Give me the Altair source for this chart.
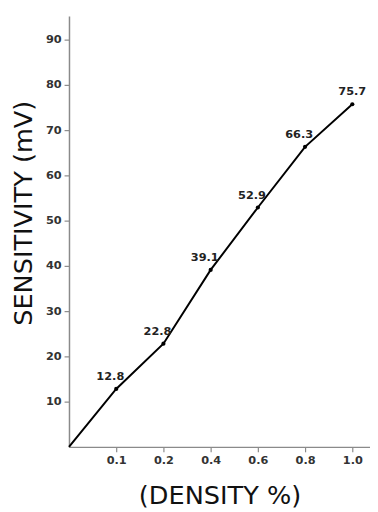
import json
import altair as alt
import pandas as pd

density = [0, 0.1, 0.2, 0.4, 0.6, 0.8, 1.0]
sensitivity = [0, 12.8, 22.8, 39.1, 52.9, 66.3, 75.7]
x_tick_labels = ["0.1", "0.2", "0.4", "0.6", "0.8", "1.0"]
y_ticks = [10, 20, 30, 40, 50, 60, 70, 80, 90]

df = pd.DataFrame({
    "idx": list(range(len(density))),
    "density": density,
    "sensitivity": sensitivity,
})
df["label"] = [f"{v:.1f}" for v in sensitivity]

label_expr = json.dumps([""] + x_tick_labels) + "[datum.value]"

FONT = "DejaVu Sans"

x_enc = alt.X(
    "idx:Q",
    scale=alt.Scale(domain=[0, 6.375], nice=False, zero=False),
    axis=alt.Axis(
        values=list(range(1, len(x_tick_labels) + 1)),
        labelExpr=label_expr,
        title="(DENSITY %)",
        grid=False,
        domainColor="#8a8a8a",
        domainWidth=1.5,
        tickColor="#8a8a8a",
        tickWidth=1.2,
        tickSize=5,
        labelFont=FONT,
        labelFontSize=11.5,
        labelFontWeight="bold",
        labelColor="#333333",
        labelPadding=3,
        titleFont=FONT,
        titleFontSize=26,
        titleFontWeight="normal",
        titleColor="#111111",
        titlePadding=17,
    ),
)
y_enc = alt.Y(
    "sensitivity:Q",
    scale=alt.Scale(domain=[0, 95.2], nice=False),
    axis=alt.Axis(
        values=y_ticks,
        title="SENSITIVITY (mV)",
        grid=False,
        domainColor="#8a8a8a",
        domainWidth=1.5,
        tickColor="#8a8a8a",
        tickWidth=1.2,
        tickSize=5,
        labelFont=FONT,
        labelFontSize=11.5,
        labelFontWeight="bold",
        labelColor="#333333",
        labelPadding=3,
        titleFont=FONT,
        titleFontSize=26,
        titleFontWeight="normal",
        titleColor="#111111",
        titleAngle=-90,
        titleAlign="center",
        titleBaseline="middle",
        titleX=-46,
        titleY=200,
    ),
)

base = alt.Chart(df)

line = base.mark_line(color="black", strokeWidth=2).encode(x=x_enc, y=y_enc)
points = base.transform_filter("datum.idx > 0").mark_point(
    filled=True, color="black", size=18, opacity=1
).encode(x="idx:Q", y="sensitivity:Q")
labels = base.transform_filter("datum.idx > 0 && datum.idx < 6").mark_text(
    font=FONT, fontSize=11.5, fontWeight="bold", color="#222222",
    dx=-6, dy=-12, baseline="middle", align="center"
).encode(x="idx:Q", y="sensitivity:Q", text="label:N")
last_label = base.transform_filter("datum.idx == 6").mark_text(
    font=FONT, fontSize=11.5, fontWeight="bold", color="#222222",
    dx=0, dy=-12, baseline="middle", align="center"
).encode(x="idx:Q", y="sensitivity:Q", text="label:N")

chart = alt.layer(line, points, labels, last_label).properties(
    width=306,
    height=438,
    autosize=alt.AutoSizeParams(type="none"),
    padding={"left": 62, "top": 4, "right": 0, "bottom": 60},
    background="white",
).configure_view(stroke=None)

chart.save("out.html", embed_options={"renderer": "svg", "actions": False})
